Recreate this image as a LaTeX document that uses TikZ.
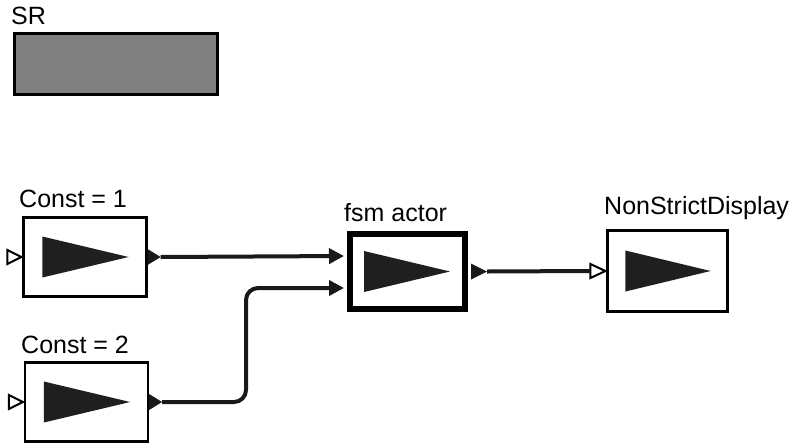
\documentclass[tikz,border=0pt]{standalone}
\usepackage{fontspec}
\setmainfont{Liberation Sans}
\usetikzlibrary{arrows.meta}
\begin{document}
\begin{tikzpicture}[x=1pt,y=-1pt,
  actor/.style={draw=black,line width=2.2pt,fill=white,inner sep=0pt},
  lbl/.style={font=\fontsize{25}{27}\selectfont,inner sep=0pt,anchor=west},
  tri/.style={fill=black!88,draw=none},
  inport/.style={draw=black,line width=2pt,fill=white,line join=miter},
  outport/.style={fill=black!90,draw=none},
  wire/.style={draw=black!90,line width=4pt},
  wirearrow/.style={wire,-{Triangle[length=15pt,width=15pt]}}
]
\useasboundingbox (0,0) rectangle (794,445);

% SR director
\node[lbl] (srl) at (11,16) {SR};
\node[draw=black,line width=2.2pt,fill=black!50,minimum width=203pt,minimum height=61pt,inner sep=0pt] (sr) at (116,64) {};

% Const = 1
\node[lbl] (c1l) at (19,199) {Const = 1};
\node[actor,minimum width=123pt,minimum height=79pt] (c1) at (85,257) {};
\fill[tri] ([xshift=20pt,yshift=20.5pt]c1.west) -- ([xshift=20pt,yshift=-20.5pt]c1.west) -- ([xshift=-19pt]c1.east) -- cycle;
\coordinate (c1o) at ([xshift=13pt]c1.east);
\fill[outport] ([yshift=8pt]c1.east) -- ([yshift=-8pt]c1.east) -- (c1o) -- cycle;
\draw[inport] ([xshift=-15pt,yshift=7pt]c1.west) -- ([xshift=-15pt,yshift=-7pt]c1.west) -- ([xshift=-1pt]c1.west) -- cycle;

% Const = 2
\node[lbl] (c2l) at (21,345) {Const = 2};
\node[actor,minimum width=123pt,minimum height=79pt] (c2) at (86.5,402) {};
\fill[tri] ([xshift=20pt,yshift=20.5pt]c2.west) -- ([xshift=20pt,yshift=-20.5pt]c2.west) -- ([xshift=-19pt]c2.east) -- cycle;
\coordinate (c2o) at ([xshift=13pt]c2.east);
\fill[outport] ([yshift=8pt]c2.east) -- ([yshift=-8pt]c2.east) -- (c2o) -- cycle;
\draw[inport] ([xshift=-15pt,yshift=7pt]c2.west) -- ([xshift=-15pt,yshift=-7pt]c2.west) -- ([xshift=-1pt]c2.west) -- cycle;

% fsm actor
\node[lbl] (fsml) at (344,213) {fsm actor};
\node[draw=black,line width=6pt,fill=white,inner sep=0pt,minimum width=115pt,minimum height=75pt] (fsm) at (407.5,271.5) {};
\fill[tri] ([xshift=17pt,yshift=20.5pt]fsm.west) -- ([xshift=17pt,yshift=-20.5pt]fsm.west) -- ([xshift=-18pt]fsm.east) -- cycle;
\coordinate (fsmi1) at ([xshift=-3pt,yshift=15.5pt]fsm.west);
\coordinate (fsmi2) at ([xshift=-3pt,yshift=-16.5pt]fsm.west);
\coordinate (fsmo) at ([xshift=19pt]fsm.east);
\fill[outport] ([xshift=3pt,yshift=8pt]fsm.east) -- ([xshift=3pt,yshift=-8pt]fsm.east) -- (fsmo) -- cycle;

% NonStrictDisplay
\node[lbl] (nsdl) at (604,208) {NonStrictDisplay};
\node[actor,minimum width=120pt,minimum height=81pt] (nsd) at (667.5,271) {};
\fill[tri] ([xshift=19pt,yshift=20.5pt]nsd.west) -- ([xshift=19pt,yshift=-20.5pt]nsd.west) -- ([xshift=-18pt]nsd.east) -- cycle;
\coordinate (nsdi) at ([xshift=-16pt]nsd.west);
\draw[inport] ([yshift=7pt]nsdi) -- ([yshift=-7pt]nsdi) -- ([xshift=-1pt]nsd.west) -- cycle;

% wires
\draw[wirearrow] (c1o) -- (fsmi1);
\draw[wirearrow,rounded corners=12pt] (c2o) -| (246,288) -- (fsmi2);
\draw[wire] (fsmo) -- (nsdi);
\end{tikzpicture}
\end{document}
